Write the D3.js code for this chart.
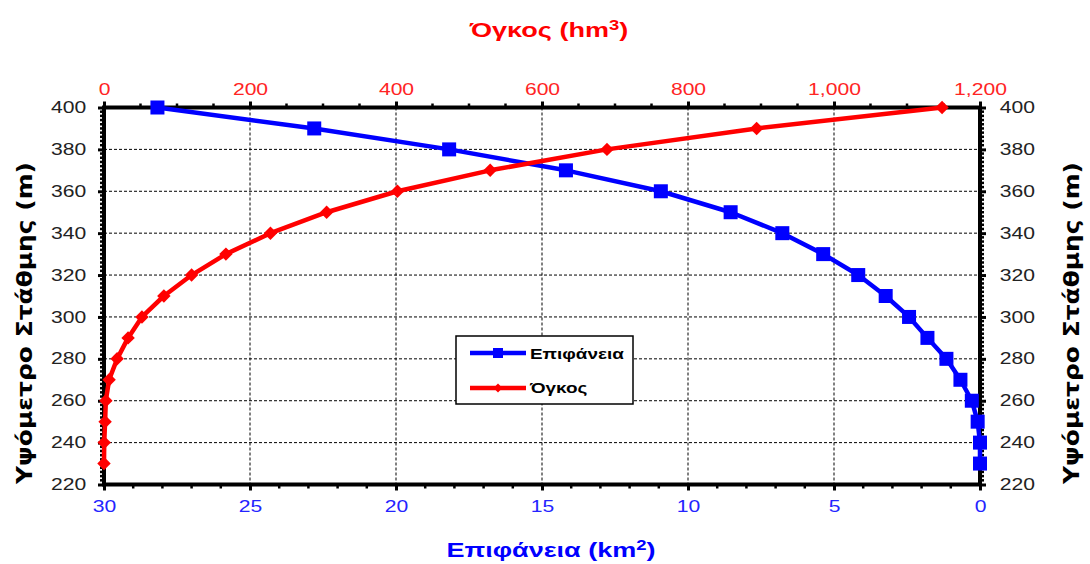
<!DOCTYPE html>
<html lang="el">
<head>
<meta charset="utf-8">
<title>Καμπύλες στάθμης</title>
<script src="https://d3js.org/d3.v7.min.js"></script>
<style>
  body{margin:0;background:#fff;font-family:"Liberation Sans",Arial,sans-serif;}
  .grid line{stroke:#000;stroke-width:1;stroke-dasharray:3,2;}
</style>
</head>
<body>
<div id="chart"></div>
<script>
// levels (m) and the two curves
var levels = [400, 390, 380, 370, 360, 350, 340, 330, 320, 310, 300, 290, 280, 270, 260, 250, 240, 230]
var area = [28.17, 22.8, 18.18, 14.18, 10.93, 8.54, 6.77, 5.37, 4.17, 3.23, 2.43, 1.8, 1.15, 0.67, 0.28, 0.08, 0, 0]      // km2
var volume = [1148, 894, 689, 529, 402, 305, 228, 167, 120, 82, 52, 33, 18, 7, 2.5, 1.5, 0.3, 0]                        // hm3
var yTicks = [220, 240, 260, 280, 300, 320, 340, 360, 380, 400]
var areaTicks = [30, 25, 20, 15, 10, 5, 0]
var volTicks = [0, 200, 400, 600, 800, 1000, 1200]

var w = 1090, h = 564
var L = 104, R = 980, T = 107.5, B = 484.5
var SX = 1.32   // the fonts in the picture are drawn wide

var y = d3.scaleLinear().domain([220, 400]).range([B, T])
var xA = d3.scaleLinear().domain([30, 0]).range([L, R])
var xV = d3.scaleLinear().domain([0, 1200]).range([L, R])

var svg = d3.select("#chart").append("svg").attr("width", w).attr("height", h)

// grid
var grid = svg.append("g").attr("class", "grid")
grid.selectAll(".gx").data(volTicks.slice(1, -1)).enter().append("line")
    .attr("x1", function(d){ return xV(d) }).attr("x2", function(d){ return xV(d) })
    .attr("y1", T).attr("y2", B)
grid.selectAll(".gy").data(yTicks.slice(1, -1)).enter().append("line")
    .attr("y1", function(d){ return y(d) }).attr("y2", function(d){ return y(d) })
    .attr("x1", L).attr("x2", R)

// axes
var fmt = d3.format(",")
function styleAxis(g, color){
    g.select(".domain").remove()
    g.selectAll(".tick line").attr("stroke", "#000").attr("stroke-width", 3)
    g.selectAll(".tick text").attr("fill", color)
        .attr("transform", "scale(" + SX + ",1)")
        .style("font-size", "16px")
        .style("font-family", '"Liberation Sans",Arial,sans-serif')
}
// minor ticks
function minor(values, scale, orient, len){
    var g = svg.append("g")
    g.selectAll("line").data(values).enter().append("line")
        .attr("stroke", "#000").attr("stroke-width", 2.5)
        .each(function(d){
            var s = d3.select(this)
            if(orient == "top") s.attr("x1", scale(d)).attr("x2", scale(d)).attr("y1", T).attr("y2", T - len)
            if(orient == "bottom") s.attr("x1", scale(d)).attr("x2", scale(d)).attr("y1", B).attr("y2", B + len)
            if(orient == "left") s.attr("y1", scale(d)).attr("y2", scale(d)).attr("x1", L).attr("x2", L - len)
            if(orient == "right") s.attr("y1", scale(d)).attr("y2", scale(d)).attr("x1", R).attr("x2", R + len)
        })
}
minor(d3.range(50, 1200, 50).filter(function(d){ return d % 200 != 0 }), xV, "top", 4)
minor(d3.range(1, 30, 1).filter(function(d){ return d % 5 != 0 }), xA, "bottom", 4)
minor(d3.range(222, 400, 2).filter(function(d){ return d % 20 != 0 }), y, "left", 4)
minor(d3.range(222, 400, 2).filter(function(d){ return d % 20 != 0 }), y, "right", 4)

svg.append("g").attr("transform", "translate(0," + T + ")")
    .call(d3.axisTop(xV).tickValues(volTicks).tickFormat(fmt).tickSizeInner(6).tickSizeOuter(0).tickPadding(7))
    .call(styleAxis, "#ff2424")
svg.append("g").attr("transform", "translate(0," + B + ")")
    .call(d3.axisBottom(xA).tickValues(areaTicks).tickSizeInner(6).tickSizeOuter(0).tickPadding(10))
    .call(styleAxis, "#2424ff")
svg.append("g").attr("transform", "translate(" + L + ",0)")
    .call(d3.axisLeft(y).tickValues(yTicks).tickSizeInner(6).tickSizeOuter(0).tickPadding(7.5))
    .call(styleAxis, "#222")
svg.append("g").attr("transform", "translate(" + R + ",0)")
    .call(d3.axisRight(y).tickValues(yTicks).tickSizeInner(6).tickSizeOuter(0).tickPadding(9))
    .call(styleAxis, "#222")

// frame
svg.append("rect").attr("x", L).attr("y", T).attr("width", R - L).attr("height", B - T)
    .attr("fill", "none").attr("stroke", "#000").attr("stroke-width", 4)

// series
var areaPts = levels.map(function(d, i){ return [xA(area[i]), y(d)] })
var volPts = levels.map(function(d, i){ return [xV(volume[i]), y(d)] })
var line = d3.line()

svg.append("path").attr("d", line(areaPts)).attr("fill", "none")
    .attr("stroke", "#0000ff").attr("stroke-width", 4.5).attr("stroke-linejoin", "round")
svg.selectAll(".sq").data(areaPts).enter().append("rect")
    .attr("x", function(d){ return d[0] - 7 }).attr("y", function(d){ return d[1] - 7 })
    .attr("width", 14).attr("height", 14).attr("fill", "#0000ff")

var diamond = d3.symbol().type(d3.symbolDiamond2).size(115)
svg.append("path").attr("d", line(volPts)).attr("fill", "none")
    .attr("stroke", "#ff0000").attr("stroke-width", 4.5).attr("stroke-linejoin", "round")
svg.selectAll(".dm").data(volPts).enter().append("path")
    .attr("d", diamond).attr("transform", function(d){ return "translate(" + d[0] + "," + d[1] + ")" })
    .attr("fill", "#ff0000")

// titles
function wideText(x, yy, color, size){
    return svg.append("g").attr("transform", "translate(" + x + "," + yy + ") scale(" + SX + ",1)")
        .append("text").attr("text-anchor", "middle").attr("fill", color)
        .style("font-size", size + "px").style("font-weight", "bold")
}
wideText(549, 37, "#ff0000", 20.5)
    .html('Όγκος (hm<tspan dy="-7" font-size="14px">3</tspan><tspan dy="7">)</tspan>')
wideText(551, 557, "#0000ff", 20.5)
    .html('Επιφάνεια (km<tspan dy="-7" font-size="14px">2</tspan><tspan dy="7">)</tspan>')

function sideTitle(x){
    svg.append("text").attr("transform", "translate(" + x + ",323) rotate(-90)").attr("text-anchor", "middle")
        .attr("fill", "#000").style("font-size", "21px").style("font-weight", "bold")
        .style("font-family", '"DejaVu Sans",Verdana,sans-serif')
        .attr("textLength", 322).attr("lengthAdjust", "spacingAndGlyphs")
        .text("Υψόμετρο Στάθμης (m)")
}
sideTitle(32)
sideTitle(1079)

// legend
var leg = svg.append("g").attr("transform", "translate(456,336)")
leg.append("rect").attr("width", 177).attr("height", 68).attr("fill", "#fff")
    .attr("stroke", "#000").attr("stroke-width", 1.5)
leg.append("line").attr("x1", 14).attr("x2", 70).attr("y1", 17).attr("y2", 17)
    .attr("stroke", "#0000ff").attr("stroke-width", 4.5)
leg.append("rect").attr("x", 37).attr("y", 12).attr("width", 10).attr("height", 10).attr("fill", "#0000ff")
leg.append("line").attr("x1", 14).attr("x2", 70).attr("y1", 52).attr("y2", 52)
    .attr("stroke", "#ff0000").attr("stroke-width", 4.5)
leg.append("path").attr("d", d3.symbol().type(d3.symbolDiamond2).size(50))
    .attr("transform", "translate(42,52)").attr("fill", "#ff0000")
leg.append("g").attr("transform", "translate(74,23) scale(1.22,1)")
    .append("text").style("font-size", "15.5px").style("font-weight", "bold").text("Επιφάνεια")
leg.append("g").attr("transform", "translate(74,57) scale(1.22,1)")
    .append("text").style("font-size", "15.5px").style("font-weight", "bold").text("Όγκος")
</script>
</body>
</html>
